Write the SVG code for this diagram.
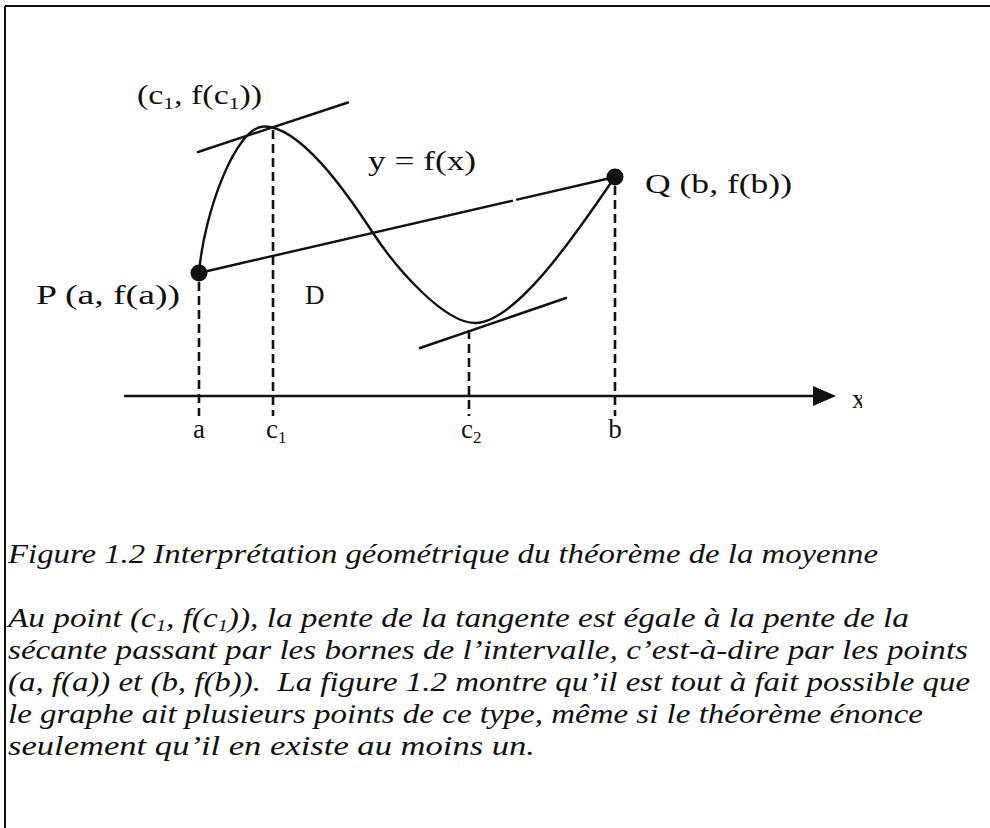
<svg xmlns="http://www.w3.org/2000/svg" width="990" height="828" viewBox="0 0 990 828">
<style>
.ln{stroke:#111;stroke-width:2.4;fill:none;stroke-linecap:round}
.dash{stroke:#111;stroke-width:2.6;fill:none;stroke-dasharray:9 5}
.lbl{font-size:27px;fill:#111}
.cap{font-size:28px;font-style:italic;fill:#111}
.sub{font-size:17px}
.dot{fill:#111}
</style>
<defs>
<clipPath id="xclip"><rect x="840" y="380" width="22" height="40"/></clipPath>
</defs>
<g id="frame">
<line x1="5" y1="6" x2="990" y2="6" stroke="#111" stroke-width="2"/>
<line x1="5" y1="6" x2="5" y2="828" stroke="#111" stroke-width="2"/>
</g>
<g id="connectors">
<line class="ln" x1="125" y1="396" x2="815" y2="396"/>
<polygon points="813,386 836,396 813,406" fill="#111"/>
<line class="dash" x1="199" y1="282" x2="199" y2="416"/>
<line class="dash" x1="273" y1="130" x2="273" y2="416"/>
<line class="dash" x1="469" y1="330" x2="469" y2="416"/>
<line class="dash" x1="615" y1="186" x2="615" y2="416"/>
<line class="ln" x1="199" y1="273" x2="512" y2="200.8"/>
<line class="ln" x1="517" y1="199.6" x2="615" y2="177"/>
<line class="ln" x1="198" y1="152" x2="348" y2="102.5"/>
<line class="ln" x1="420" y1="348" x2="566" y2="298"/>
</g>
<g id="curve">
<path class="ln" d="M199,273 C204,212 236,126.5 264,126.5 C300,126.5 345,190 373,233 C398,271 445,323 475,323 C520,323 590,212 615,177"/>
</g>
<g id="node-P" font-family="Liberation Serif">
<circle class="dot" cx="199" cy="273" r="8.5"/>
<text class="lbl" font-family="Liberation Serif" x="36" y="304" textLength="144" lengthAdjust="spacingAndGlyphs">P (a, f(a))</text>
</g>
<g id="node-Q" font-family="Liberation Serif">
<circle class="dot" cx="615" cy="177" r="8.5"/>
<text class="lbl" font-family="Liberation Serif" x="645" y="193" textLength="147" lengthAdjust="spacingAndGlyphs">Q (b, f(b))</text>
</g>
<g id="labels" font-family="Liberation Serif">
<text class="lbl" font-family="Liberation Serif" x="137" y="104" textLength="125" lengthAdjust="spacingAndGlyphs">(c<tspan class="sub" dy="5">1</tspan><tspan dy="-5">, f(c</tspan><tspan class="sub" dy="5">1</tspan><tspan dy="-5">))</tspan></text>
<text class="lbl" font-family="Liberation Serif" x="368" y="170" textLength="108" lengthAdjust="spacingAndGlyphs">y = f(x)</text>
<text class="lbl" font-family="Liberation Serif" x="305" y="304">D</text>
<text class="lbl" font-family="Liberation Serif" x="199" y="438" text-anchor="middle">a</text>
<text class="lbl" font-family="Liberation Serif" x="266" y="438">c<tspan class="sub" dy="5">1</tspan></text>
<text class="lbl" font-family="Liberation Serif" x="461" y="438">c<tspan class="sub" dy="5">2</tspan></text>
<text class="lbl" font-family="Liberation Serif" x="615" y="438" text-anchor="middle">b</text>
<text class="lbl" font-family="Liberation Serif" x="852" y="408" clip-path="url(#xclip)">x</text>
</g>
<g id="caption" font-family="Liberation Serif">
<text class="cap" font-family="Liberation Serif" x="8" y="563" textLength="870" lengthAdjust="spacingAndGlyphs">Figure 1.2 Interprétation géométrique du théorème de la moyenne</text>
<text class="cap" font-family="Liberation Serif" x="8" y="627" textLength="901" lengthAdjust="spacingAndGlyphs">Au point (c<tspan class="sub" dy="4">1</tspan><tspan dy="-4">, f(c</tspan><tspan class="sub" dy="4">1</tspan><tspan dy="-4">)), la pente de la tangente est égale à la pente de la</tspan></text>
<text class="cap" font-family="Liberation Serif" x="8" y="659" textLength="960" lengthAdjust="spacingAndGlyphs">sécante passant par les bornes de l’intervalle, c’est-à-dire par les points</text>
<text class="cap" font-family="Liberation Serif" x="8" y="691" textLength="962" lengthAdjust="spacingAndGlyphs">(a, f(a)) et (b, f(b)).&#160; La figure 1.2 montre qu’il est tout à fait possible que</text>
<text class="cap" font-family="Liberation Serif" x="8" y="723" textLength="915" lengthAdjust="spacingAndGlyphs">le graphe ait plusieurs points de ce type, même si le théorème énonce</text>
<text class="cap" font-family="Liberation Serif" x="8" y="755" textLength="527" lengthAdjust="spacingAndGlyphs">seulement qu’il en existe au moins un.</text>
</g>
</svg>
